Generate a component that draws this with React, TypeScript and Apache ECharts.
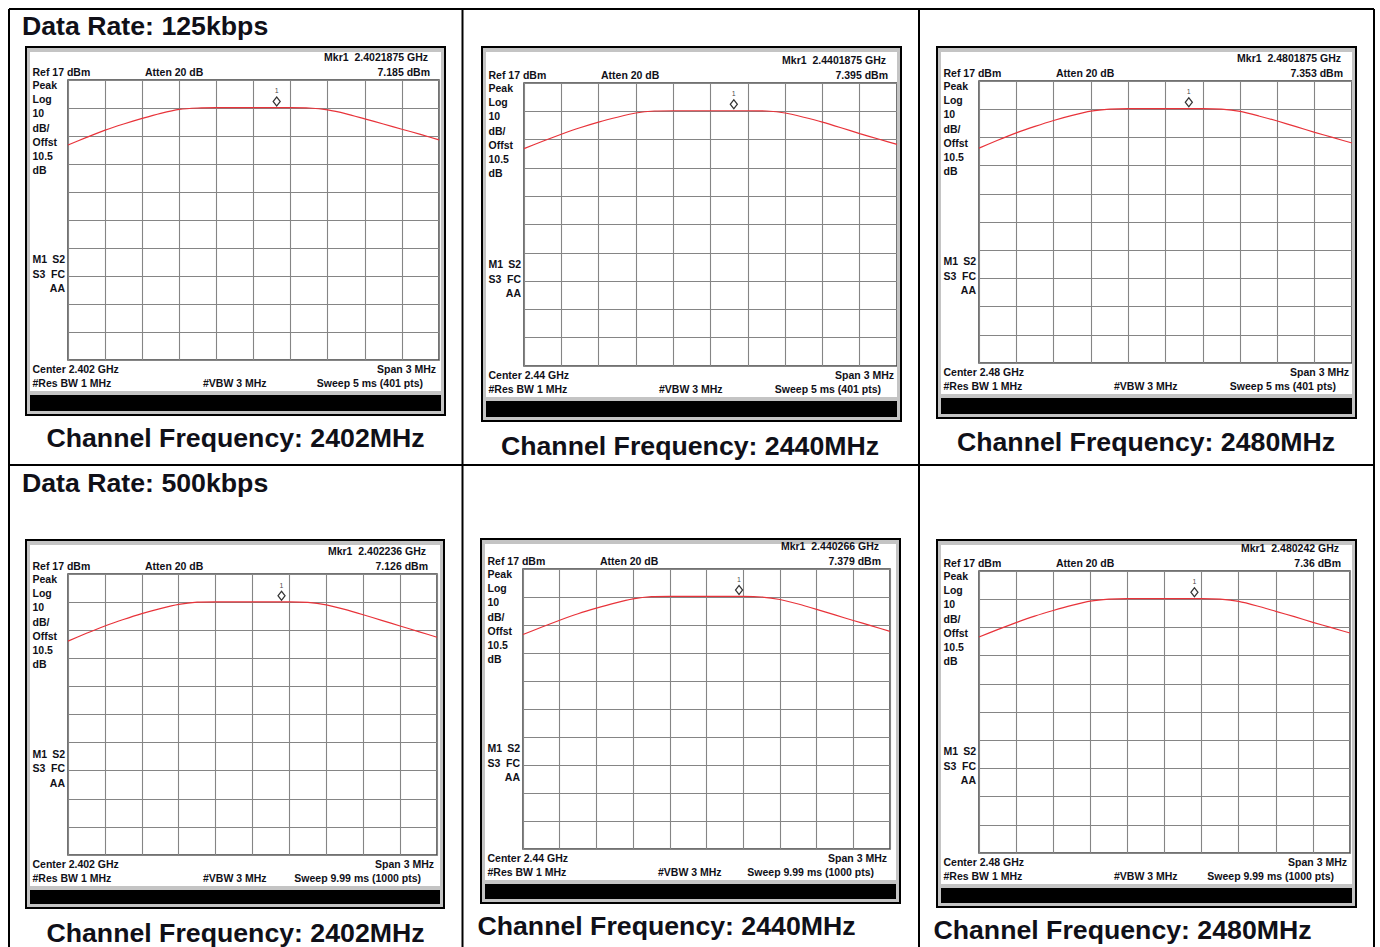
import React, { useEffect, useRef } from "react";
import * as echarts from "echarts";

// ---------- data ----------
const REF_LEVEL = 17; // dBm, top graticule line
const FREQ_OFFSET_KHZ = [-1500, -1350, -1200, -1050, -900, -750, -600, -450, -300, -150, 0, 150, 300, 450, 600, 750, 900, 1050, 1200, 1350, 1500];

const trace125k2402 = [-6.2, -3.5, -0.9, 1.3, 3.3, 5.1, 6.5, 7.0, 7.1, 7.1, 7.1, 7.1, 7.1, 7.0, 6.3, 4.9, 3.1, 1.3, -0.6, -2.4, -4.4];
const trace125k2440 = [-6.2, -3.6, -1.1, 1.2, 3.2, 4.9, 6.4, 7.1, 7.2, 7.2, 7.2, 7.2, 7.2, 7.1, 6.4, 4.9, 3.2, 1.2, -0.9, -2.8, -4.7];
const trace125k2480 = [-6.8, -4.0, -1.4, 0.9, 3.0, 4.8, 6.3, 7.0, 7.2, 7.2, 7.2, 7.2, 7.2, 7.0, 6.2, 4.6, 2.8, 0.8, -1.2, -3.1, -5.0];
const trace500k2402 = [-6.9, -4.1, -1.5, 0.8, 2.9, 4.7, 6.2, 7.0, 7.1, 7.1, 7.1, 7.1, 7.1, 6.9, 6.0, 4.4, 2.5, 0.5, -1.5, -3.5, -5.5];
const trace500k2440 = [-6.4, -3.8, -1.3, 1.0, 3.0, 4.8, 6.3, 7.1, 7.2, 7.2, 7.2, 7.2, 7.2, 7.0, 6.1, 4.5, 2.6, 0.6, -1.4, -3.3, -5.3];
const trace500k2480 = [-6.4, -3.8, -1.3, 1.0, 3.0, 4.8, 6.3, 7.0, 7.2, 7.2, 7.2, 7.2, 7.2, 7.0, 6.2, 4.6, 2.7, 0.8, -1.2, -3.1, -5.0];

const TRACES = [trace125k2402, trace125k2440, trace125k2480, trace500k2402, trace500k2440, trace500k2480];
const MARKER_OFFSET_KHZ = [187.5, 187.5, 187.5, 236, 266, 242];
const MARKER_LEVEL_DBM = [7.185, 7.395, 7.353, 7.126, 7.379, 7.36];
const MARKER_FREQ_LABELS = ["2.4021875 GHz", "2.4401875 GHz", "2.4801875 GHz", "2.402236 GHz", "2.440266 GHz", "2.480242 GHz"];
const MARKER_LEVEL_LABELS = ["7.185 dBm", "7.395 dBm", "7.353 dBm", "7.126 dBm", "7.379 dBm", "7.36 dBm"];
const CENTER_LABELS = ["2.402 GHz", "2.44 GHz", "2.48 GHz", "2.402 GHz", "2.44 GHz", "2.48 GHz"];
const SWEEP_LABELS = ["5 ms (401 pts)", "5 ms (401 pts)", "5 ms (401 pts)", "9.99 ms (1000 pts)", "9.99 ms (1000 pts)", "9.99 ms (1000 pts)"];
const CHANNEL_LABELS = ["2402MHz", "2440MHz", "2480MHz", "2402MHz", "2440MHz", "2480MHz"];
const DATA_RATE_LABELS = ["Data Rate: 125kbps", "Data Rate: 500kbps"];
const LEFT_LABELS = ["Peak", "Log", "10", "dB/", "Offst", "10.5", "dB"];

// ---------- layout (pixels) ----------
// frame: fx, fy, fr, fb ; grid: gl, gt, gr, gb
const PANELS = [
  { fx: 26, fy: 47, fr: 445, fb: 415, gl: 68, gt: 80, gr: 439, gb: 360, cx: 235.5, cy: 438 },
  { fx: 482, fy: 47, fr: 901, fb: 421, gl: 524, gt: 83, gr: 897, gb: 366, cx: 690, cy: 446 },
  { fx: 937, fy: 47, fr: 1356, fb: 418, gl: 979, gt: 81, gr: 1352, gb: 363, cx: 1146, cy: 442 },
  { fx: 26, fy: 540, fr: 444, fb: 908, gl: 68, gt: 574, gr: 437, gb: 855, cx: 235.5, cy: 933 },
  { fx: 481, fy: 539, fr: 900, fb: 903, gl: 523, gt: 569, gr: 890, gb: 849, cx: 666.5, cy: 926 },
  { fx: 937, fy: 540, fr: 1356, fb: 907, gl: 979, gt: 571, gr: 1350, gb: 853, cx: 1122.5, cy: 930 },
];

const SMALL_FONT = "bold 10.5px 'Liberation Sans', Arial, sans-serif";
const BIG_FONT = "bold 26.7px 'Liberation Sans', Arial, sans-serif";
const TXT = "#101018";

function txt(text: string, x: number, y: number, align: string, font = SMALL_FONT) {
  return {
    type: "text",
    z: 10,
    style: { text, x, y, font, fill: TXT, textAlign: align, textVerticalAlign: "middle", align, verticalAlign: "middle" },
  };
}
function rect(x: number, y: number, w: number, h: number, fill: string, stroke?: string, lw = 1) {
  return { type: "rect", z: 1, shape: { x, y, width: w, height: h }, style: { fill, stroke: stroke || "none", lineWidth: lw } };
}
function line(x1: number, y1: number, x2: number, y2: number, stroke = "#000", lw = 2) {
  return { type: "line", z: 5, shape: { x1, y1, x2, y2 }, style: { stroke, lineWidth: lw } };
}

export default function App() {
  const ref = useRef<HTMLDivElement>(null);
  useEffect(() => {
    if (!ref.current) return;
    const chart = echarts.init(ref.current, undefined, { renderer: "svg" });

    const grids: any[] = [];
    const xAxes: any[] = [];
    const yAxes: any[] = [];
    const series: any[] = [];
    const graphics: any[] = [];

    // table lines
    graphics.push(line(9, 9, 1374, 9));
    graphics.push(line(9, 9, 9, 947));
    graphics.push(line(1374, 9, 1374, 947));
    graphics.push(line(9, 465, 1374, 465));
    graphics.push(line(462.5, 9, 462.5, 947));
    graphics.push(line(919, 9, 919, 947));
    graphics.push(txt(DATA_RATE_LABELS[0], 22, 26, "left", BIG_FONT));
    graphics.push(txt(DATA_RATE_LABELS[1], 22, 483, "left", BIG_FONT));

    PANELS.forEach((p, i) => {
      grids.push({
        left: p.gl, top: p.gt, width: p.gr - p.gl, height: p.gb - p.gt,
        show: true, borderColor: "#444", borderWidth: 1.5, backgroundColor: "transparent",
      });
      const split = { show: true, lineStyle: { color: "#858585", width: 1.1 } };
      xAxes.push({
        gridIndex: i, type: "value", min: -1500, max: 1500, interval: 300,
        axisLabel: { show: false }, axisTick: { show: false }, axisLine: { show: false }, splitLine: split,
      });
      yAxes.push({
        gridIndex: i, type: "value", min: -100, max: 0, interval: 10,
        axisLabel: { show: false }, axisTick: { show: false }, axisLine: { show: false }, splitLine: split,
      });
      series.push({
        type: "line", xAxisIndex: i, yAxisIndex: i, showSymbol: false, smooth: 0.2, z: 3,
        lineStyle: { color: "#e8333a", width: 1.2 },
        data: FREQ_OFFSET_KHZ.map((f, k) => [f, TRACES[i][k] - REF_LEVEL]),
      });
      series.push({
        type: "scatter", xAxisIndex: i, yAxisIndex: i, z: 4,
        symbol: "diamond", symbolSize: [7, 9], symbolOffset: [0, -6],
        itemStyle: { color: "#fff", borderColor: "#000", borderWidth: 1.3 },
        label: { show: true, formatter: "1", position: "top", distance: 2, fontSize: 7, color: "#111", fontFamily: "'Liberation Sans', Arial" },
        data: [[MARKER_OFFSET_KHZ[i], MARKER_LEVEL_DBM[i] - REF_LEVEL]],
      });

      // frame
      const fw = p.fr - p.fx;
      graphics.push(rect(p.fx + 1, p.fy + 1, fw - 2, 4, "#c4c4c4"));
      graphics.push(rect(p.fx + 1, p.fy + 1, 3, p.fb - p.fy - 2, "#c4c4c4"));
      graphics.push(rect(p.fr - 4, p.fy + 1, 3, p.fb - p.fy - 2, "#c4c4c4"));
      graphics.push(rect(p.fx + 1, p.gb + 31, fw - 2, p.fb - p.gb - 32, "#c4c4c4"));
      graphics.push(rect(p.fx + 4, p.gb + 35, fw - 8, p.fb - p.gb - 39, "#000"));
      graphics.push({ type: "rect", z: 6, shape: { x: p.fx, y: p.fy, width: fw, height: p.fb - p.fy }, style: { fill: "none", stroke: "#000", lineWidth: 2 } });

      const lx = p.fx + 6.5;
      graphics.push(txt("Mkr1  " + MARKER_FREQ_LABELS[i], p.gr - 11, p.gt - 23, "right"));
      graphics.push(txt("Ref 17 dBm", lx, p.gt - 8, "left"));
      graphics.push(txt("Atten 20 dB", p.fx + 119, p.gt - 8, "left"));
      graphics.push(txt(MARKER_LEVEL_LABELS[i], p.gr - 9, p.gt - 8, "right"));
      LEFT_LABELS.forEach((s, k) => graphics.push(txt(s, lx, p.gt + 5 + k * 14.2, "left")));
      const my = p.gt + 0.64 * (p.gb - p.gt);
      graphics.push(txt("M1", lx, my, "left"));
      graphics.push(txt("S2", p.gl - 3, my, "right"));
      graphics.push(txt("S3", lx, my + 14.5, "left"));
      graphics.push(txt("FC", p.gl - 3, my + 14.5, "right"));
      graphics.push(txt("AA", p.gl - 3, my + 29, "right"));
      graphics.push(txt("Center " + CENTER_LABELS[i], lx, p.gb + 9, "left"));
      graphics.push(txt("Span 3 MHz", p.gr - 3, p.gb + 9, "right"));
      graphics.push(txt("#Res BW 1 MHz", lx, p.gb + 23, "left"));
      graphics.push(txt("#VBW 3 MHz", p.fx + 177, p.gb + 23, "left"));
      graphics.push(txt("Sweep " + SWEEP_LABELS[i], p.gr - 16, p.gb + 23, "right"));

      graphics.push(txt("Channel Frequency: " + CHANNEL_LABELS[i], p.cx, p.cy, "center", BIG_FONT));
    });

    chart.setOption({
      animation: false,
      backgroundColor: "#fff",
      grid: grids,
      xAxis: xAxes,
      yAxis: yAxes,
      series,
      graphic: { elements: graphics },
    });
    return () => chart.dispose();
  }, []);
  return <div ref={ref} style={{ position: "absolute", left: 0, top: 0, width: 1380, height: 947 }} />;
}
